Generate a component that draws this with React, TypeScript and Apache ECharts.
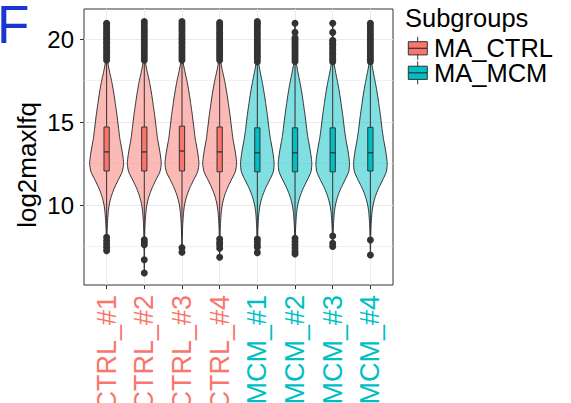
import React, { useEffect, useRef } from "react";
import * as echarts from "echarts";

// ---------- data ----------
const categories = ["CTRL_#1", "CTRL_#2", "CTRL_#3", "CTRL_#4", "MCM_#1", "MCM_#2", "MCM_#3", "MCM_#4"];
const sampleGroups = ["MA_CTRL", "MA_CTRL", "MA_CTRL", "MA_CTRL", "MA_MCM", "MA_MCM", "MA_MCM", "MA_MCM"];
const groupNames = ["MA_CTRL", "MA_MCM"];
const groupColors = ["#F8766D", "#00BFC4"];
const groupFills = ["rgba(248,118,109,0.5)", "rgba(0,191,196,0.5)"];

const q1 = [12.05, 12.05, 12.05, 12.0, 12.0, 12.0, 12.0, 12.05];
const medians = [13.2, 13.2, 13.25, 13.2, 13.15, 13.15, 13.15, 13.15];
const q3 = [14.7, 14.7, 14.75, 14.7, 14.65, 14.65, 14.65, 14.68];
const whiskerLow = [8.1, 8.1, 8.1, 8.1, 8.2, 8.2, 8.25, 8.2];
const whiskerHigh = [18.65, 18.65, 18.7, 18.65, 18.55, 18.55, 18.55, 18.55];

const upperOutliers = [
  [18.72, 18.9, 19.05, 19.2, 19.35, 19.5, 19.65, 19.8, 19.95, 20.1, 20.25, 20.4, 20.55, 20.7, 20.85, 20.95],
  [18.72, 18.88, 19.05, 19.2, 19.36, 19.5, 19.66, 19.8, 19.95, 20.12, 20.28, 20.42, 20.58, 20.72, 20.9, 21.05],
  [18.73, 18.9, 19.05, 19.22, 19.38, 19.52, 19.68, 19.82, 19.98, 20.12, 20.28, 20.45, 20.6, 20.75, 20.9, 21.05],
  [18.73, 18.9, 19.06, 19.2, 19.35, 19.5, 19.66, 19.8, 19.96, 20.1, 20.26, 20.4, 20.56, 20.72, 20.86, 20.99],
  [18.63, 18.8, 18.96, 19.1, 19.26, 19.42, 19.56, 19.72, 19.88, 20.02, 20.18, 20.34, 20.5, 20.66, 20.82, 20.95, 21.05],
  [18.65, 18.8, 18.95, 19.1, 19.25, 19.4, 19.55, 19.7, 19.82, 19.95, 20.08, 20.4, 20.95],
  [18.63, 18.78, 18.92, 19.08, 19.22, 19.38, 19.52, 19.68, 19.82, 19.92, 20.4, 20.95],
  [18.63, 18.78, 18.94, 19.1, 19.24, 19.4, 19.55, 19.7, 19.86, 20.0, 20.16, 20.32, 20.48, 20.62, 20.78, 20.95],
];
const lowerOutliers = [
  [8.05, 7.85, 7.65, 7.45, 7.25],
  [7.9, 7.75, 7.6, 6.7, 5.9],
  [7.43, 7.15],
  [7.95, 7.75, 7.6, 7.4, 6.85],
  [7.95, 7.8, 7.6, 7.45, 7.13],
  [8.0, 7.8, 7.6, 7.4, 7.2, 7.05],
  [8.13, 7.7, 7.5],
  [7.89, 6.99],
];

const densityLevels = [8.5, 9.0, 9.5, 10.0, 10.5, 11.0, 11.5, 12.0, 12.5, 13.0, 13.5, 14.0, 14.5, 15.0, 15.5, 16.0, 16.5, 17.0, 17.5, 18.0, 18.5, 19.0, 19.5, 20.0, 20.5];
const densityCTRL = [0.03, 0.055, 0.09, 0.15, 0.27, 0.45, 0.68, 0.92, 1.0, 0.95, 0.87, 0.78, 0.72, 0.66, 0.6, 0.53, 0.46, 0.38, 0.29, 0.18, 0.085, 0.045, 0.03, 0.02, 0.012];
const densityMCM = [0.03, 0.055, 0.09, 0.16, 0.29, 0.48, 0.72, 0.94, 0.99, 0.94, 0.86, 0.77, 0.7, 0.64, 0.58, 0.51, 0.44, 0.36, 0.27, 0.17, 0.085, 0.045, 0.03, 0.02, 0.012];

const yTicks = [10, 15, 20];
const yMin = 5.18;
const yMax = 21.81;

const FONT = "'Liberation Sans', Arial, Helvetica, sans-serif";

function groupIndex(i: number) {
  return groupNames.indexOf(sampleGroups[i]);
}

export default function App() {
  const ref = useRef<HTMLDivElement>(null);

  useEffect(() => {
    if (!ref.current) return;
    const chart = echarts.init(ref.current, null, { renderer: "svg" });

    const positions = categories.map((_, i) => i + 1);
    const sampleMin = categories.map((_, i) => Math.min(...lowerOutliers[i], whiskerLow[i]));
    const sampleMax = categories.map((_, i) => Math.max(...upperOutliers[i], whiskerHigh[i]));

    const violinSeries = groupNames.map((g, gi) => ({
      type: "custom",
      name: g + "_violin",
      coordinateSystem: "cartesian2d",
      data: positions.filter((_, i) => groupIndex(i) === gi).map((p) => [p, p - 1]),
      z: 2,
      renderItem: (params: any, api: any) => {
        const xPos = api.value(0);
        const i = api.value(1);
        const dens = gi === 0 ? densityCTRL : densityMCM;
        const lo = sampleMin[i];
        const hi = sampleMax[i];
        const lv: number[][] = [[lo, 0.004]];
        densityLevels.forEach((l, k) => {
          if (l > lo && l < hi) lv.push([l, dens[k]]);
        });
        lv.push([hi, 0.004]);
        const half = api.size([1, 0])[0] * 0.45;
        const right = lv.map(([v, d]) => {
          const p = api.coord([xPos, v]);
          return [p[0] + d * half, p[1]];
        });
        const left = lv
          .slice()
          .reverse()
          .map(([v, d]) => {
            const p = api.coord([xPos, v]);
            return [p[0] - d * half, p[1]];
          });
        return {
          type: "polygon",
          shape: { points: right.concat(left), smooth: 0.25 },
          style: { fill: groupFills[gi], stroke: "#333333", lineWidth: 1 },
        };
      },
    }));

    const boxSeries = groupNames.map((g, gi) => ({
      type: "custom",
      name: g + "_box",
      coordinateSystem: "cartesian2d",
      data: positions.filter((_, i) => groupIndex(i) === gi).map((p) => [p, p - 1]),
      z: 3,
      renderItem: (params: any, api: any) => {
        const xPos = api.value(0);
        const i = api.value(1);
        const pMed = api.coord([xPos, medians[i]]);
        const yTop = api.coord([xPos, q3[i]])[1];
        const yBot = api.coord([xPos, q1[i]])[1];
        const yHi = api.coord([xPos, whiskerHigh[i]])[1];
        const yLo = api.coord([xPos, whiskerLow[i]])[1];
        const bw = api.size([0.14, 0])[0];
        const cx = pMed[0];
        const lineStyle = { stroke: "#333333", lineWidth: 1 };
        return {
          type: "group",
          children: [
            { type: "line", shape: { x1: cx, y1: yHi, x2: cx, y2: yTop }, style: lineStyle },
            { type: "line", shape: { x1: cx, y1: yBot, x2: cx, y2: yLo }, style: lineStyle },
            {
              type: "rect",
              shape: { x: cx - bw / 2, y: yTop, width: bw, height: yBot - yTop },
              style: { fill: groupColors[gi], stroke: "#333333", lineWidth: 1 },
            },
            {
              type: "line",
              shape: { x1: cx - bw / 2, y1: pMed[1], x2: cx + bw / 2, y2: pMed[1] },
              style: { stroke: "#333333", lineWidth: 1.3 },
            },
          ],
        };
      },
    }));

    const outlierData: number[][] = [];
    categories.forEach((_, i) => {
      upperOutliers[i].forEach((v) => outlierData.push([positions[i], v]));
      lowerOutliers[i].forEach((v) => outlierData.push([positions[i], v]));
    });

    const legendY = [48.3, 72.8];
    const legendGraphics: any[] = [
      {
        type: "text",
        x: 405,
        y: 18,
        style: { text: "Subgroups", font: `25.5px ${FONT}`, fill: "#000", align: "left", verticalAlign: "middle" },
      },
    ];
    groupNames.forEach((g, gi) => {
      const cy = legendY[gi];
      legendGraphics.push(
        { type: "line", shape: { x1: 417.7, y1: cy - 11.5, x2: 417.7, y2: cy + 11.5 }, style: { stroke: "#333333", lineWidth: 1 } },
        {
          type: "rect",
          shape: { x: 408.3, y: cy - 6.6, width: 19, height: 13.2 },
          style: { fill: groupColors[gi], stroke: "#333333", lineWidth: 1 },
        },
        { type: "line", shape: { x1: 408.3, y1: cy, x2: 427.3, y2: cy }, style: { stroke: "#333333", lineWidth: 1.2 } },
        {
          type: "text",
          x: 434,
          y: cy,
          style: { text: g, font: `25.5px ${FONT}`, fill: "#000", align: "left", verticalAlign: "middle" },
        }
      );
    });

    const option: any = {
      animation: false,
      backgroundColor: "#ffffff",
      grid: {
        left: 84,
        top: 9,
        width: 309,
        height: 276,
        show: true,
        borderColor: "#333333",
        borderWidth: 1,
        backgroundColor: "#ffffff",
        containLabel: false,
        outerBoundsMode: "none",
      },
      xAxis: {
        type: "value",
        min: 0.4,
        max: 8.6,
        minInterval: 1,
        maxInterval: 1,
        axisLine: { show: false },
        axisTick: { show: true, length: 4, lineStyle: { color: "#333333" }, customValues: positions },
        splitLine: { show: true, lineStyle: { color: "#EBEBEB", width: 1 } },
        axisLabel: {
          customValues: positions,
          rotate: 90,
          margin: 10,
          fontFamily: FONT,
          fontSize: 27,
          formatter: (v: number) => {
            const i = Math.round(v) - 1;
            if (i < 0 || i >= categories.length) return "";
            return groupIndex(i) === 0 ? `{c|${categories[i]}}` : `{m|${categories[i]}}`;
          },
          rich: {
            c: { color: groupColors[0], fontSize: 27, fontFamily: FONT },
            m: { color: groupColors[1], fontSize: 27, fontFamily: FONT },
          },
        },
      },
      yAxis: {
        type: "value",
        min: yMin,
        max: yMax,
        minInterval: 5,
        maxInterval: 5,
        splitNumber: 3,
        axisLine: { show: false },
        axisTick: { show: true, length: 4, lineStyle: { color: "#333333" }, customValues: yTicks },
        axisLabel: {
          customValues: yTicks,
          margin: 10,
          fontFamily: FONT,
          fontSize: 24,
          color: "#000",
        },
        splitLine: { show: true, lineStyle: { color: "#EBEBEB", width: 1 } },
        minorTick: { show: false, splitNumber: 2 },
        minorSplitLine: { show: true, lineStyle: { color: "#EBEBEB", width: 0.7 } },
      },
      series: [
        ...violinSeries,
        ...boxSeries,
        {
          type: "scatter",
          name: "outliers",
          data: outlierData,
          symbol: "circle",
          symbolSize: 7,
          itemStyle: { color: "#333333", opacity: 1 },
          z: 4,
        },
      ],
      graphic: [
        {
          type: "text",
          x: -3,
          y: 24,
          style: { text: "F", font: `53px ${FONT}`, fill: "#1A35D0", align: "left", verticalAlign: "middle" },
        },
        {
          type: "text",
          x: 27,
          y: 165,
          rotation: Math.PI / 2,
          style: { text: "log2maxlfq", font: `26px ${FONT}`, fill: "#000", align: "center", verticalAlign: "middle" },
        },
        ...legendGraphics,
      ],
    };

    chart.setOption(option);
    return () => chart.dispose();
  }, []);

  return <div ref={ref} style={{ position: "absolute", left: 0, top: 0, width: 571, height: 403 }} />;
}
